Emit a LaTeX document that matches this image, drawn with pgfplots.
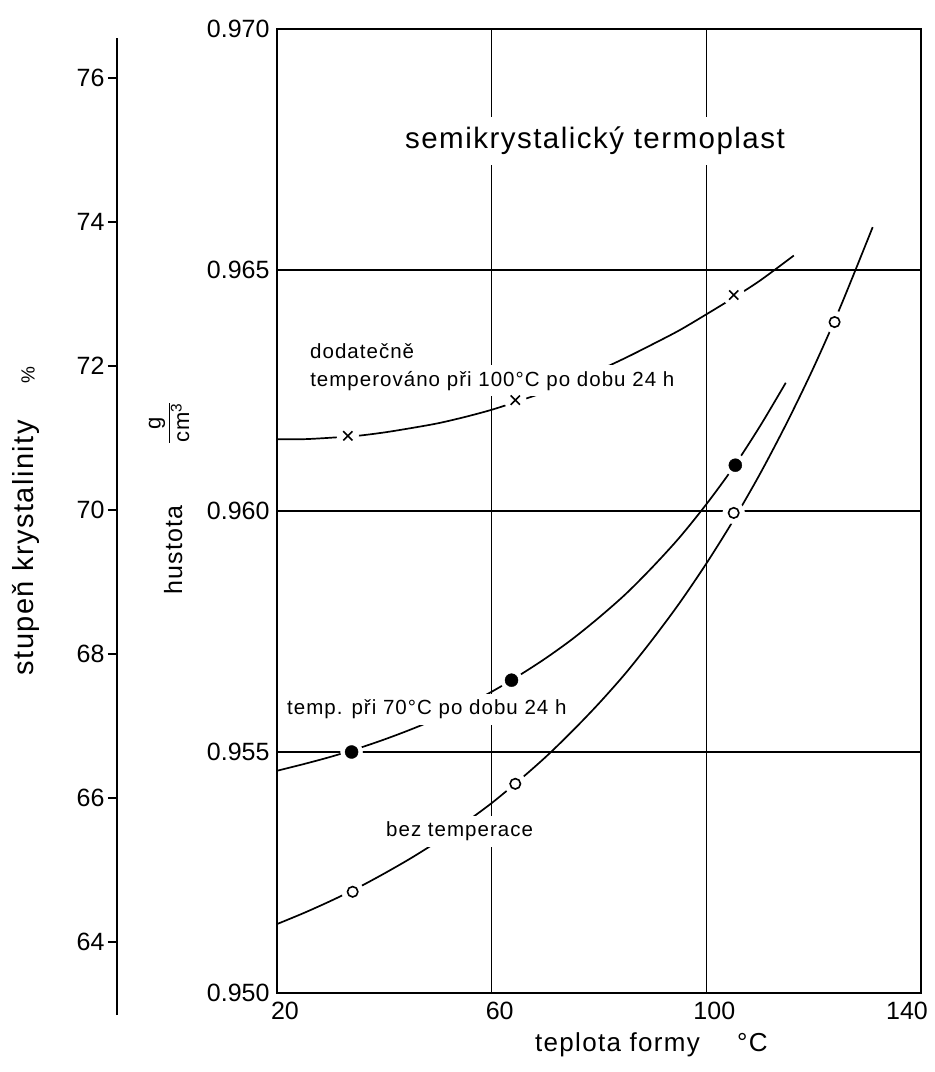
\documentclass[border=0pt]{standalone}
\usepackage{pgfplots}
\pgfplotsset{compat=1.18}
\usepackage{fontspec}
\setmainfont{Liberation Sans}
\newfontfamily\spaced[LetterSpace=5]{Liberation Sans}

\begin{document}
\begin{tikzpicture}[x=1pt,y=1pt]
\path (0,0) rectangle (935,1072);

% secondary (crystallinity) axis
\begin{axis}[
  at={(117pt,57pt)}, anchor=south west,
  width=10pt, height=977pt, scale only axis,
  axis x line=none, axis y line*=left,
  xmin=0, xmax=1, ymin=62.986, ymax=76.556,
  ytick={64,66,68,70,72,74,76},
  yticklabels={64,66,68,70,72,74,76},
  tick align=outside, major tick length=9pt,
  tick style={black, line width=1.4pt},
  axis line style={black, line width=1.4pt},
  yticklabel style={font=\fontsize{25}{25}\selectfont},
]
\addplot[draw=none] coordinates {(0,64) (1,76)};
\end{axis}

% main density axis
\begin{axis}[
  at={(277pt,79pt)}, anchor=south west,
  width=644pt, height=964pt, scale only axis,
  xmin=20, xmax=140, ymin=0.950, ymax=0.970,
  xtick={20,60,100}, xticklabels={20,60,100},
  extra x ticks={140}, extra x tick labels={140},
  extra x tick style={xticklabel style={xshift=-22pt}},
  ytick={0.950,0.955,0.960,0.965,0.970},
  yticklabels={0.950,0.955,0.960,0.965,0.970},
  axis line style={black, line width=1.6pt},
  major tick length=0pt,
  tick label style={font=\fontsize{25}{25}\selectfont},
  xticklabel style={xshift=8pt, yshift=-6pt},
  yticklabel style={xshift=-4pt},
  clip=false,
]
% curves
\addplot[black, line width=1.7pt, smooth] coordinates {
 (20,0.96149) (25,0.96149) (30,0.96152) (35,0.96156) (40,0.96163) (45,0.96172)
 (50,0.96182) (55,0.96195) (60,0.96210) (65,0.96228) (70,0.96247) (75,0.96268)
 (80,0.96292) (85,0.96318) (90,0.96346) (95,0.96375) (100,0.96408) (105,0.96442)
 (110,0.96478) (116.3,0.96530)};
\addplot[black, line width=1.7pt, smooth] coordinates {
 (20,0.95461) (25,0.95475) (30,0.95490) (35,0.95507) (40,0.95526) (45,0.95547)
 (50,0.95570) (55,0.95596) (60,0.95625) (65,0.95658) (70,0.95694) (75,0.95734)
 (80,0.95779) (85,0.95828) (90,0.95884) (95,0.95945) (100,0.96014) (105,0.96090)
 (110,0.96176) (114.8,0.96266)};
\addplot[black, line width=1.7pt, smooth] coordinates {
 (20,0.95143) (25,0.95166) (30,0.95191) (35,0.95218) (40,0.95248) (45,0.95280)
 (50,0.95315) (55,0.95353) (60,0.95394) (65,0.95440) (70,0.95489) (75,0.95543)
 (80,0.95601) (85,0.95664) (90,0.95734) (95,0.95809) (100,0.95891) (105,0.95980)
 (110,0.96077) (115,0.96183) (120,0.96298) (125,0.96424) (131,0.96589)};
% white gaps around the measured points
\addplot[only marks, mark=*, mark size=11pt, white, mark options={draw=white, fill=white}] coordinates {
 (33.2,0.96156) (64.4,0.96230) (105.1,0.96448)
 (33.9,0.95500) (63.7,0.95649) (105.4,0.96095)
 (34.1,0.95210) (64.4,0.95434) (105.1,0.95996) (123.9,0.96392)};
% grid lines (drawn over the gaps)
\draw[black, line width=1.5pt] (axis cs:60,0.950) -- (axis cs:60,0.970);
\draw[black, line width=1.5pt] (axis cs:100,0.950) -- (axis cs:100,0.970);
\draw[black, line width=1.5pt] (axis cs:20,0.955) -- (axis cs:140,0.955);
\draw[black, line width=1.5pt] (axis cs:20,0.960) -- (axis cs:140,0.960);
\draw[black, line width=1.5pt] (axis cs:20,0.965) -- (axis cs:140,0.965);
% markers
\addplot[only marks, mark=x, mark size=6.5pt, black, mark options={line width=1.6pt}] coordinates {
 (33.2,0.96156) (64.4,0.96230) (105.1,0.96448)};
\addplot[only marks, mark=*, mark size=6.5pt, black] coordinates {
 (33.9,0.95500) (63.7,0.95649) (105.4,0.96095)};
\addplot[only marks, mark=o, mark size=5.2pt, black, mark options={fill=white, line width=1.6pt}] coordinates {
 (34.1,0.95210) (64.4,0.95434) (105.1,0.95996) (123.9,0.96392)};
% labels
\node[fill=white, inner xsep=6pt, inner ysep=10pt, font=\fontsize{29.5}{32}\spaced] at (axis cs:79.25,0.96768) {semikrystalický termoplast};
\node[anchor=base west, inner sep=0pt, font=\fontsize{20.5}{22}\spaced] at (axis cs:26.15,0.963174) {dodatečně};
\node[anchor=base west, fill=white, inner xsep=3pt, inner ysep=6pt, font=\fontsize{20.5}{22}\spaced] at (axis cs:25.6,0.962593) {temperováno při 100°C po dobu 24 h};
\node[anchor=base west, fill=white, inner xsep=3pt, inner ysep=6pt, font=\fontsize{20.5}{22}\spaced] at (axis cs:21.3,0.955768) {temp. při 70°C po dobu 24 h};
\node[anchor=base west, fill=white, inner xsep=3pt, inner ysep=6pt, font=\fontsize{20.5}{22}\spaced] at (axis cs:39.75,0.953237) {bez temperace};
\end{axis}

% axis titles
\node[anchor=base west, inner sep=0pt, font=\fontsize{26}{28}\spaced] at (535,20) {teplota formy};
\node[anchor=base west, inner sep=0pt, font=\fontsize{26}{28}\spaced] at (737,20) {°C};
\node[rotate=90, anchor=base east, inner sep=0pt, font=\fontsize{25}{27}\spaced] at (182,567) {hustota};
\node[rotate=90, inner sep=0pt, font=\fontsize{22}{24}\spaced] at (169,649) {$\displaystyle\frac{\mbox{g}}{\mbox{cm\textsuperscript{3}}}$};
\node[rotate=90, anchor=base east, inner sep=0pt, font=\fontsize{29}{31}\spaced] at (33,652) {stupeň krystalinity};
\node[rotate=90, inner sep=0pt, font=\fontsize{19}{21}\spaced] at (28,697) {\%};
\end{tikzpicture}
\end{document}
